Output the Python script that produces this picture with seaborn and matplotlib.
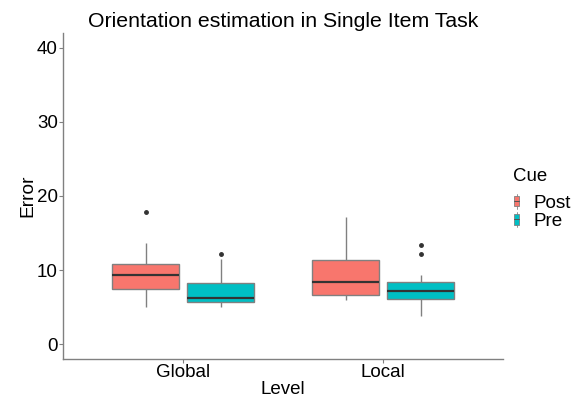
import matplotlib
matplotlib.use("Agg")
import matplotlib.pyplot as plt
import seaborn as sns
import pandas as pd
from matplotlib.patches import Patch, Rectangle
from matplotlib.lines import Line2D

levels = ["Global", "Local"]
cues = ["Post", "Pre"]
colors = ["#F8766D", "#00BFC4"]

global_post = [5.0, 6.2, 7.0, 7.48, 8.3, 8.9, 9.28, 9.8, 10.3, 10.77, 11.9, 13.7, 17.8]
global_pre = [5.0, 5.3, 5.5, 5.72, 5.9, 6.05, 6.22, 6.8, 7.5, 8.24, 9.5, 11.5, 12.2]
local_post = [5.95, 6.2, 6.5, 6.7, 7.2, 7.9, 8.38, 9.0, 10.2, 11.35, 12.5, 14.5, 17.1]
local_pre = [3.78, 5.0, 5.5, 5.8, 6.04, 6.3, 6.6, 6.9, 7.16, 7.5, 7.8, 8.1, 8.38, 8.9, 9.28, 12.16, 13.4]

y_ticks = [0, 10, 20, 30, 40]

rows = []
for lvl, cue, vals in [("Global", "Post", global_post), ("Global", "Pre", global_pre),
                       ("Local", "Post", local_post), ("Local", "Pre", local_pre)]:
    for v in vals:
        rows.append({"Level": lvl, "Cue": cue, "Error": v})
df = pd.DataFrame(rows)

sns.set_theme(style="white")
plt.rcParams["font.family"] = ["Liberation Sans", "DejaVu Sans"]
plt.rcParams["text.color"] = "black"
plt.rcParams["axes.labelcolor"] = "black"

fig = plt.figure(figsize=(5.75, 3.99), dpi=100)
ax = fig.add_axes([63 / 575, 40 / 399, 440 / 575, 326 / 399])

gray = "#808080"
sns.boxplot(data=df, x="Level", y="Error", hue="Cue", order=levels, hue_order=cues,
            palette=colors, width=0.75, gap=0.1, showcaps=False, linewidth=1.0,
            linecolor=gray, saturation=1, ax=ax, legend=False,
            medianprops=dict(color="#333333", linewidth=1.6),
            flierprops=dict(marker="o", markersize=2.5, markerfacecolor="#333333",
                            markeredgecolor="#333333"))

ax.set_xlim(-0.6, 1.6)
ax.set_ylim(-2, 42)
ax.set_yticks(y_ticks)
for s in ["top", "right"]:
    ax.spines[s].set_visible(False)
for s in ["left", "bottom"]:
    ax.spines[s].set_color(gray)
    ax.spines[s].set_linewidth(1.0)
ax.tick_params(axis="both", which="both", length=2.75, width=0.8, color=gray,
               labelsize=13.5, labelcolor="black", left=True, bottom=True)
ax.tick_params(axis="x", pad=0.5)
ax.tick_params(axis="y", pad=1)
ax.set_xlabel("Level", fontsize=13.5, labelpad=0, color="black")
ax.set_ylabel("Error", fontsize=13.8, labelpad=0, color="black")
ax.set_title("Orientation estimation in Single Item Task", fontsize=15.3, pad=4.5,
             color="black")


class BoxKey:
    def legend_artist(self, legend, orig_handle, fontsize, handlebox):
        x0, y0 = -handlebox.xdescent, -handlebox.ydescent
        w, h = handlebox.width, handlebox.height
        tr = handlebox.get_transform()
        line = Line2D([x0 + w / 2, x0 + w / 2], [y0 - h * 0.1, y0 + h * 1.1],
                      color=gray, lw=0.6, transform=tr)
        rect = Rectangle((x0, y0 + h * 0.1), w, h * 0.8,
                         facecolor=orig_handle.get_facecolor(), edgecolor=gray,
                         lw=0.6, transform=tr)
        med = Line2D([x0, x0 + w], [y0 + h * 0.5, y0 + h * 0.5],
                     color="#555555", lw=0.7, transform=tr)
        handlebox.add_artist(line)
        handlebox.add_artist(rect)
        handlebox.add_artist(med)
        return rect


handles = [Patch(facecolor=c, label=l) for c, l in zip(colors, cues)]
leg = fig.legend(handles=handles, loc="upper left",
                 bbox_to_anchor=(514 / 575, 1 - 195 / 399), frameon=False,
                 fontsize=13.6, handlelength=0.28, handleheight=0.65,
                 handletextpad=0.75, labelspacing=0.06, borderaxespad=0, borderpad=0,
                 handler_map={Patch: BoxKey()})
fig.text(513 / 575, 1 - 181 / 399, "Cue", fontsize=13.4, va="baseline", ha="left")

fig.savefig("out.png", dpi=100)
